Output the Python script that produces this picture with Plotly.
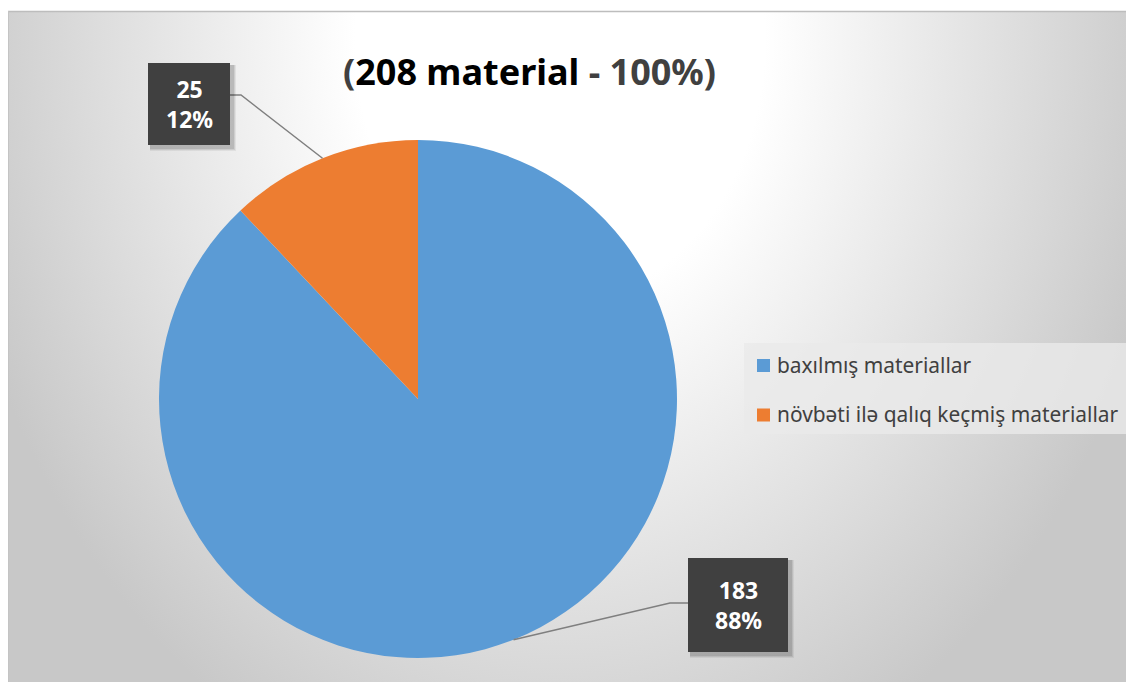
import base64
import math
import plotly.graph_objects as go

# ---- data ----
labels = ["baxılmış materiallar", "növbəti ilə qalıq keçmiş materiallar"]
values = [183, 25]
colors = ["#5B9BD5", "#ED7D31"]
title_unit = "material"

total = sum(values)
percents = [round(v / total * 100) for v in values]

# ---- geometry (screen pixels; page body has an 8px margin) ----
W, H = 1134, 682
OX, OY = 8, 8
CX, CY, R = 418, 399, 259

def px(x):
    return (x - OX) / W

def py(y):
    return 1 - (y - OY) / H

# background: radial gradient chart area (in figure pixel coords)
svg = f'''<svg xmlns="http://www.w3.org/2000/svg" width="{W}" height="{H}" viewBox="0 0 {W} {H}">
<defs>
<radialGradient id="g" gradientUnits="userSpaceOnUse" cx="0" cy="0" r="1" gradientTransform="translate({560-OX},{40-OY}) scale(620,790)">
<stop offset="0" stop-color="#ffffff"/>
<stop offset="0.33" stop-color="#ffffff"/>
<stop offset="1" stop-color="#c8c8c8"/>
</radialGradient>
</defs>
<rect x="0" y="0" width="{W}" height="{H}" fill="#ffffff"/>
<rect x="0" y="{11-OY}" width="{W}" height="{H}" fill="url(#g)"/>
<line x1="0" y1="{11.5-OY}" x2="{W}" y2="{11.5-OY}" stroke="#bdbdbd" stroke-width="1.5"/>
<line x1="0.5" y1="{11-OY}" x2="0.5" y2="{H}" stroke="#c4c4c4" stroke-width="1"/>
</svg>'''
bg_src = "data:image/svg+xml;base64," + base64.b64encode(svg.encode("utf-8")).decode("ascii")

fig = go.Figure()
fig.add_trace(go.Pie(
    labels=labels,
    values=values,
    marker=dict(colors=colors, line=dict(width=0)),
    sort=False,
    direction="clockwise",
    rotation=0,
    textinfo="none",
    hoverinfo="label+value+percent",
    showlegend=False,
    domain=dict(x=[px(CX - R), px(CX + R)], y=[py(CY + R), py(CY - R)]),
))

shapes = []
annotations = []

# data label boxes (layout positions) and leader lines from slice midpoints
boxes = [(688, 558, 788, 652), (148, 63, 230, 145)]
elbows = [((670, 603), (688, 603)), ((241, 95), (230, 95))]

cum = 0
for i, v in enumerate(values):
    mid = (cum + v / 2) / total * 360  # clockwise from 12 o'clock
    cum += v
    ax = CX + R * math.sin(math.radians(mid))
    ay = CY - R * math.cos(math.radians(mid))
    (ex, ey), (bx, by) = elbows[i]
    shapes.append(dict(
        type="path", xref="paper", yref="paper",
        path=f"M {px(ax)} {py(ay)} L {px(ex)} {py(ey)} L {px(bx)} {py(by)}",
        line=dict(color="#7f7f7f", width=1.5),
    ))
    x0, y0, x1, y1 = boxes[i]
    # soft shadow
    for k, a in ((6, 0.06), (5, 0.08), (4, 0.10)):
        shapes.append(dict(
            type="rect", xref="paper", yref="paper",
            x0=px(x0 + 2), x1=px(x1 + k), y0=py(y1 + k), y1=py(y0 + 2),
            fillcolor=f"rgba(0,0,0,{a})", line=dict(width=0),
        ))
    shapes.append(dict(
        type="rect", xref="paper", yref="paper",
        x0=px(x0), x1=px(x1), y0=py(y1), y1=py(y0),
        fillcolor="#404040", line=dict(width=0),
    ))
    annotations.append(dict(
        xref="paper", yref="paper",
        x=px((x0 + x1) / 2), y=py((y0 + y1) / 2),
        xanchor="center", yanchor="middle",
        text=f"<b>{v}</b><br><b>{percents[i]}%</b>",
        showarrow=False,
        font=dict(family="Noto Sans", size=23, color="#ffffff"),
    ))

# legend (custom, built from labels/colors)
shapes.append(dict(
    type="rect", xref="paper", yref="paper",
    x0=px(744), x1=px(1128), y0=py(434), y1=py(343),
    fillcolor="rgba(234,234,234,0.8)", line=dict(width=0),
))
leg_y = [365.5, 415]
for i, lab in enumerate(labels):
    yy = leg_y[i]
    shapes.append(dict(
        type="rect", xref="paper", yref="paper",
        x0=px(757), x1=px(770), y0=py(yy + 6.5), y1=py(yy - 6.5),
        fillcolor=colors[i], line=dict(width=0),
    ))
    annotations.append(dict(
        xref="paper", yref="paper",
        x=px(775), y=py(yy - 1),
        xanchor="left", yanchor="middle",
        text=lab, showarrow=False,
        font=dict(family="Noto Sans", size=20.9, color="#404040"),
    ))

# title
annotations.append(dict(
    xref="paper", yref="paper",
    x=px(529), y=py(71),
    xanchor="center", yanchor="middle",
    text=(f"<b><span style='color:#404040'>(</span>{total} {title_unit}"
          f"<span style='color:#404040'> - 100%)</span></b>"),
    showarrow=False,
    font=dict(family="Noto Sans", size=36, color="#000000"),
))

fig.update_layout(
    width=W, height=H,
    margin=dict(l=0, r=0, t=0, b=0),
    paper_bgcolor="#ffffff",
    plot_bgcolor="rgba(0,0,0,0)",
    images=[dict(source=bg_src, xref="paper", yref="paper", x=0, y=1,
                 sizex=1, sizey=1, sizing="stretch", layer="below",
                 xanchor="left", yanchor="top")],
    shapes=shapes,
    annotations=annotations,
    showlegend=False,
)

fig.write_html("out.html")
